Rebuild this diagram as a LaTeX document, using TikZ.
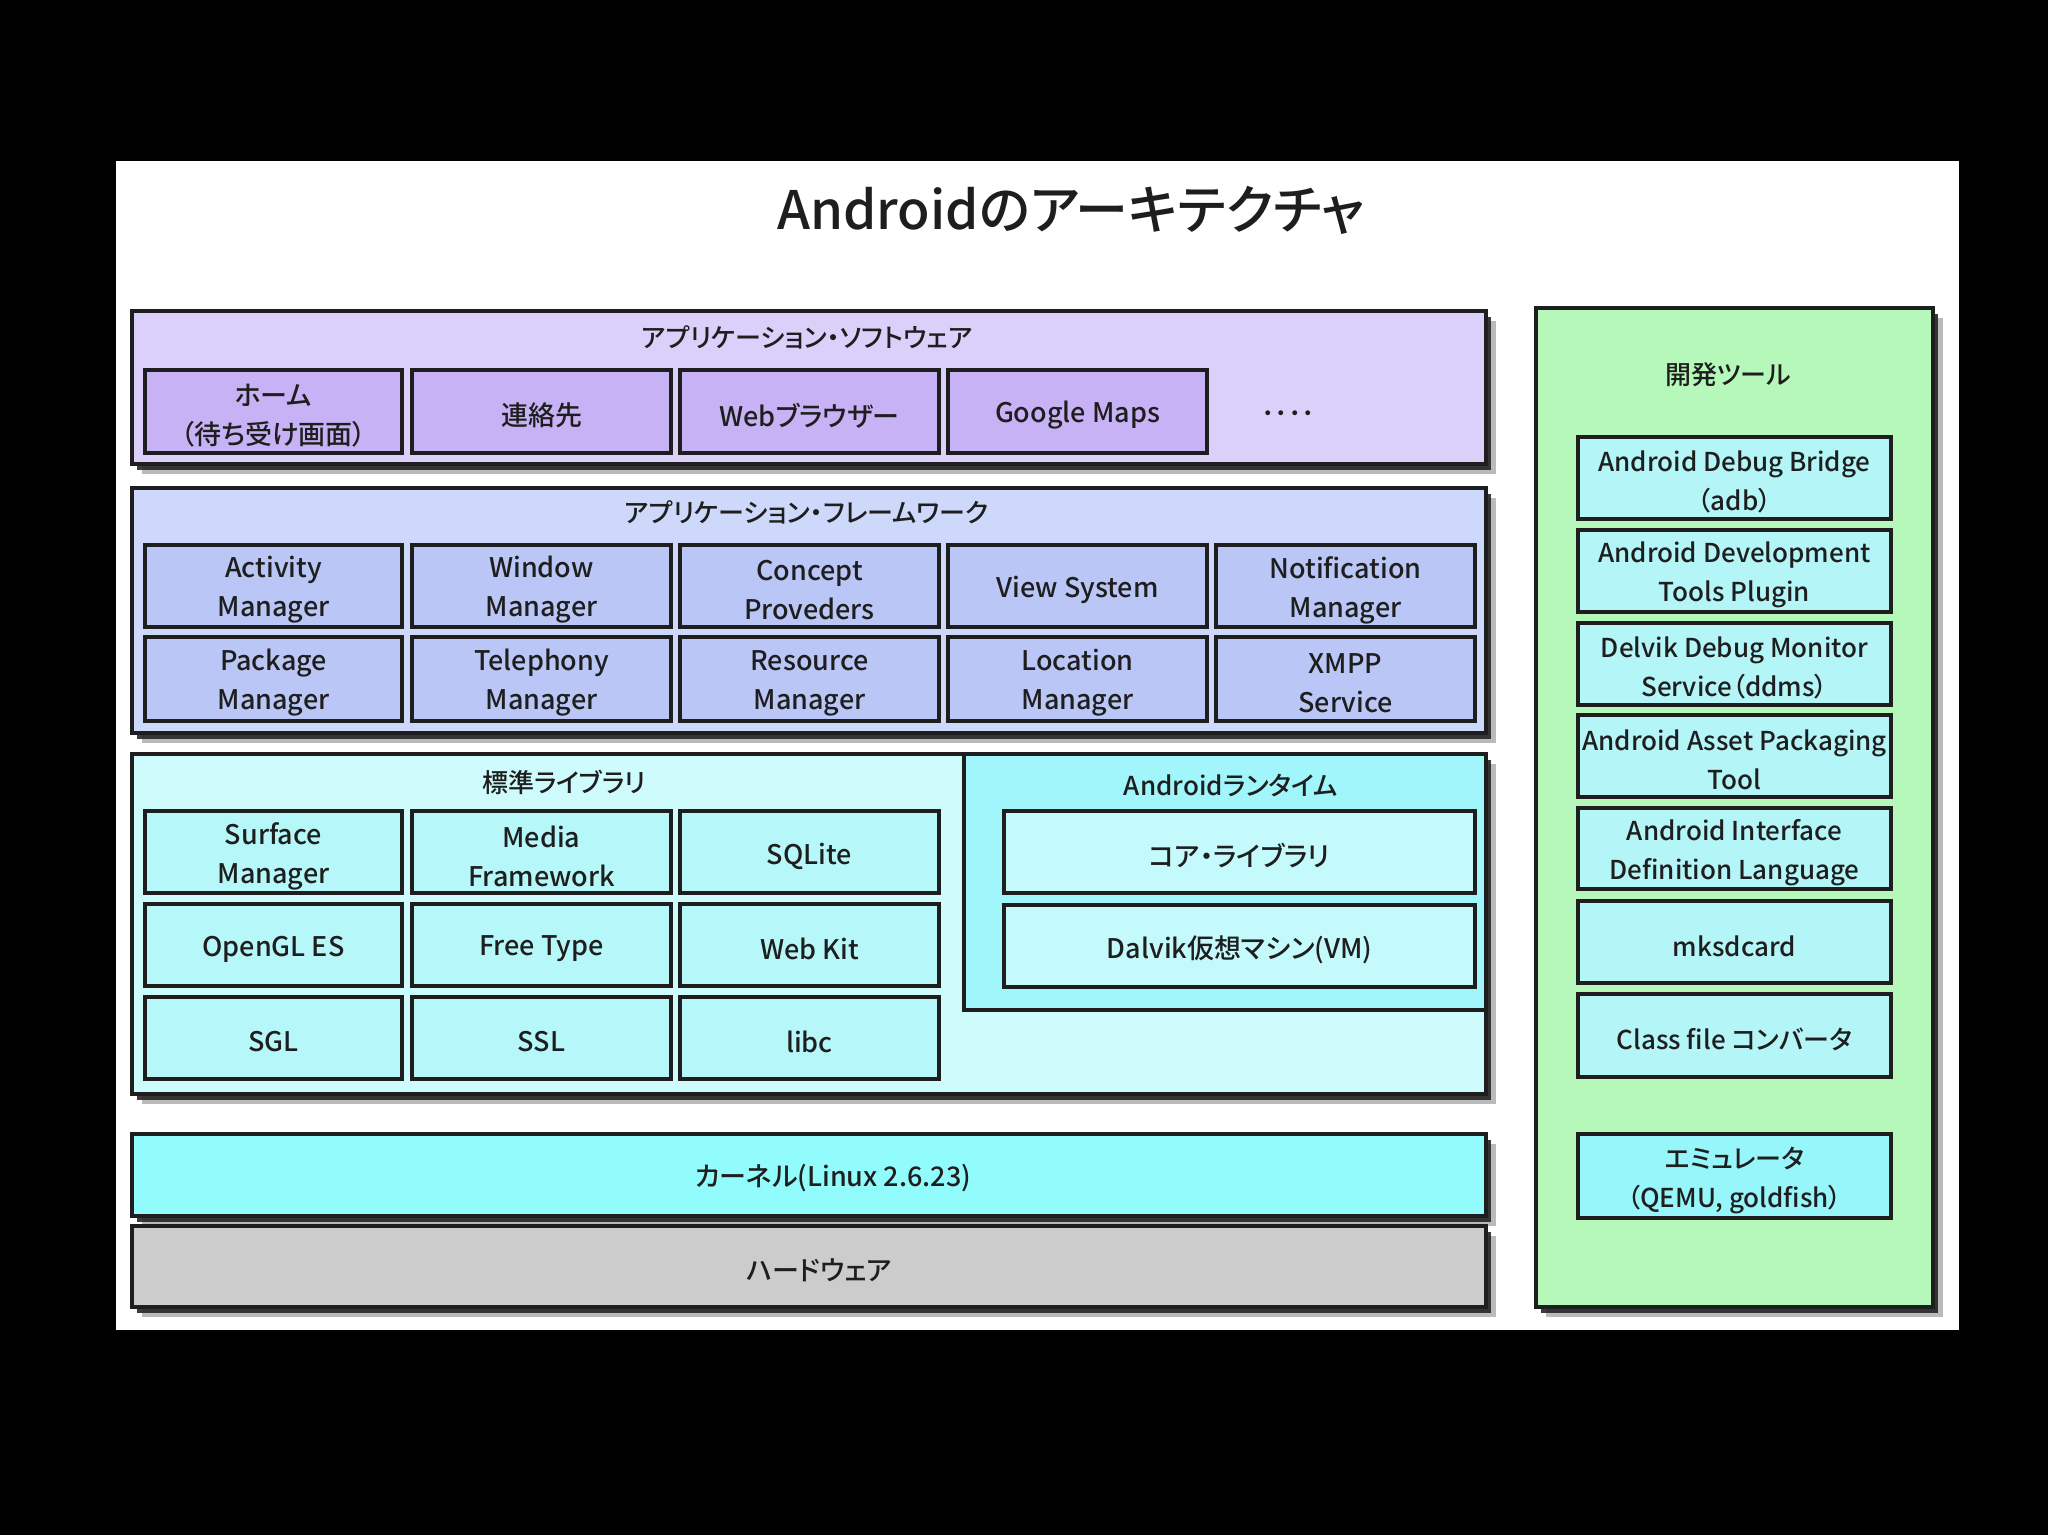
\documentclass[tikz,border=0pt]{standalone}
\usepackage{fontspec}
\setmainfont{Noto Sans CJK JP}[UprightFont={* Medium}, RawFeature=+palt]
\usetikzlibrary{shadows}
\definecolor{apO}{RGB}{218,208,250}
\definecolor{apI}{RGB}{200,178,246}
\definecolor{fwO}{RGB}{206,216,250}
\definecolor{fwI}{RGB}{186,198,246}
\definecolor{slO}{RGB}{206,252,252}
\definecolor{slI}{RGB}{182,248,250}
\definecolor{rtO}{RGB}{160,246,250}
\definecolor{rtI}{RGB}{196,250,252}
\definecolor{knO}{RGB}{146,252,252}
\definecolor{hwO}{RGB}{204,204,204}
\definecolor{dvO}{RGB}{182,248,186}
\definecolor{dvI}{RGB}{180,246,248}
\definecolor{dvE}{RGB}{150,246,250}
\definecolor{ink}{RGB}{30,30,30}
\newcommand\lblfont{\fontsize{27}{39}\selectfont}
\newcommand\devfont{\fontsize{26}{39}\selectfont}
\newcommand\ttlfont{\fontsize{26}{30}\selectfont}
% box with its text placed slightly below the geometric centre
\newcommand\bx[7]{%
  \node[#6, minimum width={(#4-#2)*1pt}, minimum height={(#5-#3)*1pt}] (#1) at ({(#2+#4)/2},{(#3+#5)/2}) {};
  \node[txt] (#1-t) at ({(#2+#4)/2},{(#3+#5)/2+4}) {#7};}
\tikzset{
  outer/.style={draw=ink, line width=4pt, inner sep=0pt,
    drop shadow={shadow xshift=10pt, shadow yshift=-10pt, fill=black!45, opacity=.6},
    drop shadow={shadow xshift=5pt, shadow yshift=-6pt, fill=black!85, opacity=.9}},
  inner/.style={draw=ink, line width=4pt, inner sep=0pt},
  item/.style={draw=ink, line width=3.5pt, inner sep=0pt,
    drop shadow={shadow xshift=1.5pt, shadow yshift=-2pt, fill=black!70, opacity=.8}},
  txt/.style={inner sep=0pt, align=center, text=ink, font=\lblfont},
  devtxt/.style={font=\devfont},
  ttl/.style={inner sep=0pt, text=ink, font=\ttlfont},
}
\begin{document}
\begin{tikzpicture}[x=1pt,y=-1pt]
\fill[black] (0,0) rectangle (2048,1535);
\useasboundingbox (0,0) rectangle (2048,1535);
\fill[white] (116,161) rectangle (1959,1330);
\node[ttl, font=\fontsize{53}{60}\selectfont] (title) at (1071,210) {Androidのアーキテクチャ};

% Application software
\bx{appsw}{132}{311}{1486}{464}{outer, fill=apO}{}
\node[ttl] (appswt) at (807,337) {アプリケーション・ソフトウェア};
\bx{home}{145}{370}{402}{453}{item, fill=apI}{ホーム\\（待ち受け画面）}
\bx{contact}{412}{370}{671}{453}{item, fill=apI}{連絡先}
\bx{browser}{680}{370}{939}{453}{item, fill=apI}{Webブラウザー}
\bx{gmaps}{948}{370}{1207}{453}{item, fill=apI}{Google Maps}
\node[ttl, font=\lblfont] (dots) at (1288,417) {････};

% Application framework
\bx{appfw}{132}{488}{1486}{733}{outer, fill=fwO}{}
\node[ttl] (appfwt) at (807,512) {アプリケーション・フレームワーク};
\bx{actm}{145}{545}{402}{627}{item, fill=fwI}{Activity\\Manager}
\bx{winm}{412}{545}{671}{627}{item, fill=fwI}{Window\\Manager}
\bx{conp}{680}{545}{939}{627}{item, fill=fwI}{Concept\\Proveders}
\bx{views}{948}{545}{1207}{627}{item, fill=fwI}{View System}
\bx{notm}{1216}{545}{1475}{627}{item, fill=fwI}{Notification\\Manager}
\bx{pkgm}{145}{637}{402}{721}{item, fill=fwI}{Package\\Manager}
\bx{telm}{412}{637}{671}{721}{item, fill=fwI}{Telephony\\Manager}
\bx{resm}{680}{637}{939}{721}{item, fill=fwI}{Resource\\Manager}
\bx{locm}{948}{637}{1207}{721}{item, fill=fwI}{Location\\Manager}
\bx{xmpp}{1216}{637}{1475}{721}{item, fill=fwI}{XMPP\\Service}

% Libraries
\bx{stdlib}{132}{754}{1486}{1094}{outer, fill=slO}{}
\node[ttl] (stdlibt) at (564,782) {標準ライブラリ};
\bx{surf}{145}{811}{402}{893}{item, fill=slI}{Surface\\Manager}
\bx{media}{412}{811}{671}{893}{item, fill=slI}{Media\\Framework}
\bx{sqlite}{680}{811}{939}{893}{item, fill=slI}{SQLite}
\bx{opengl}{145}{904}{402}{986}{item, fill=slI}{OpenGL ES}
\bx{freet}{412}{904}{671}{986}{item, fill=slI}{Free Type}
\bx{webkit}{680}{904}{939}{986}{item, fill=slI}{Web Kit}
\bx{sgl}{145}{997}{402}{1079}{item, fill=slI}{SGL}
\bx{ssl}{412}{997}{671}{1079}{item, fill=slI}{SSL}
\bx{libc}{680}{997}{939}{1079}{item, fill=slI}{libc}

% Android runtime
\bx{runtime}{964}{754}{1486}{1010}{inner, fill=rtO}{}
\node[ttl] (runtimet) at (1231,785) {Androidランタイム};
\bx{corelib}{1004}{811}{1475}{893}{item, fill=rtI}{コア・ライブラリ}
\bx{dalvik}{1004}{905}{1475}{987}{item, fill=rtI}{Dalvik仮想マシン(VM)}

% Kernel and hardware
\bx{kernel}{132}{1134}{1486}{1216}{outer, fill=knO}{}
\node[ttl, font=\lblfont] (kernelt) at (833,1178) {カーネル(Linux 2.6.23)};
\bx{hw}{132}{1226}{1486}{1307}{outer, fill=hwO}{}
\node[ttl, font=\lblfont] (hwt) at (819,1270) {ハードウェア};

% Development tools
\bx{dev}{1536}{308}{1933}{1307}{outer, fill=dvO}{}
\node[ttl] (devt) at (1728,375) {開発ツール};
\tikzset{txt/.append style={devtxt}}
\bx{adb}{1578}{437}{1891}{519}{item, fill=dvI}{Android Debug Bridge\\（adb）}
\bx{adt}{1578}{530}{1891}{612}{item, fill=dvI}{Android Development\\Tools Plugin}
\bx{ddms}{1578}{623}{1891}{705}{item, fill=dvI}{Delvik Debug Monitor\\Service（ddms）}
\bx{aapt}{1578}{715}{1891}{797}{item, fill=dvI}{Android Asset Packaging\\Tool}
\bx{aidl}{1578}{808}{1891}{889}{item, fill=dvI}{Android Interface\\Definition Language}
\bx{mksd}{1578}{901}{1891}{983}{item, fill=dvI}{mksdcard}
\bx{dx}{1578}{994}{1891}{1077}{item, fill=dvI}{Class file コンバータ}
\bx{emu}{1578}{1134}{1891}{1218}{item, fill=dvE}{エミュレータ\\（QEMU, goldfish）}
\end{tikzpicture}
\end{document}
